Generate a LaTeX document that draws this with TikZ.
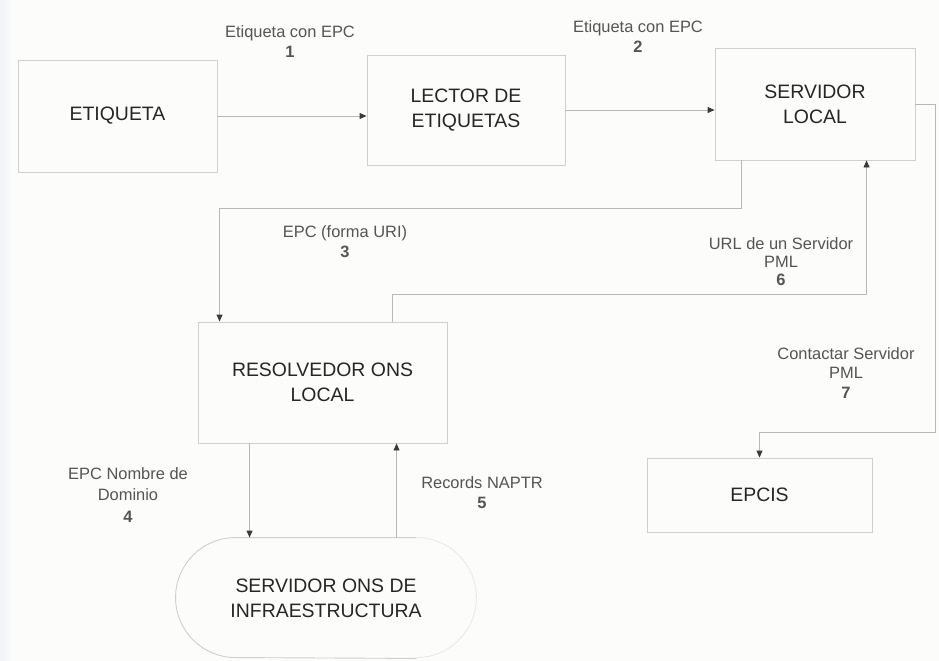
\documentclass[tikz,border=0pt]{standalone}
\usepackage{fontspec}
\setmainfont{Liberation Sans}
\usetikzlibrary{arrows.meta,calc}
\definecolor{boxline}{HTML}{CFCFCF}
\definecolor{faintline}{HTML}{EAEAEA}
\definecolor{wire}{HTML}{B8B8B8}
\definecolor{tip}{HTML}{3A3A3A}
\definecolor{boxtext}{HTML}{262626}
\definecolor{wiretext}{HTML}{555555}
\definecolor{paper}{HTML}{FCFCFA}
\definecolor{edge}{HTML}{F0F3F8}

\begin{document}
\begin{tikzpicture}[x=1bp,y=-1bp,
  block/.style={draw=boxline, line width=0.9bp, align=center, text=boxtext,
    font=\fontsize{19.5}{25}\selectfont, inner sep=0pt},
  flow/.style={draw=wire, line width=0.9bp,
    -{Triangle[length=7bp,width=6bp,color=tip]}},
  tag/.style={align=center, text=wiretext, font=\fontsize{16.5}{20}\selectfont, inner sep=0pt}]
% page
\fill[paper] (0,0) rectangle (939,661);
\shade[left color=edge, right color=paper] (0,0) rectangle (14,661);
\useasboundingbox (0,0) rectangle (939,661);

% blocks
\node[block, minimum width=199bp, minimum height=112bp] (et) at (117.5,116) {ETIQUETA};
\node[block, minimum width=198bp, minimum height=110bp] (le) at (466,110) {LECTOR DE\\ETIQUETAS};
\node[block, minimum width=200bp, minimum height=112bp] (sl) at (815,104) {SERVIDOR\\LOCAL};
\node[block, minimum width=249bp, minimum height=121bp] (ro) at (322.5,382.5) {RESOLVEDOR ONS\\LOCAL};
\node[block, minimum width=225bp, minimum height=74bp] (ep) at (759.5,495) {EPCIS};
\node[block, draw=none, minimum width=300bp, minimum height=120bp] (ons) at (326,598)
  {SERVIDOR ONS DE\\INFRAESTRUCTURA};

% outline of the infrastructure server: rounded ends, the right one barely inked
\draw[boxline, line width=0.9bp]
  ($(ons.north east)+(-60,0)$) -- ($(ons.north west)+(60,0)$)
  arc[start angle=270, end angle=90, radius=60]
  -- ($(ons.south east)+(-60,0)$);
\draw[faintline, line width=0.9bp]
  ($(ons.north east)+(-60,0)$) arc[start angle=270, end angle=450, radius=60];

% connectors
\draw[flow] (et.east) -- (et.east -| le.west);
\draw[flow] (le.east) -- (le.east -| sl.west);

\coordinate (s3) at ($(sl.south west)+(27,0)$);
\coordinate (e3) at ($(ro.north west)+(22,0)$);
\draw[flow] (s3) -- ++(0,48) -| (e3);

\coordinate (s6) at ($(ro.north west)+(195,0)$);
\coordinate (e6) at ($(sl.south west)+(152,0)$);
\draw[flow] (s6) -- ++(0,-27) -| (e6);

\coordinate (b7) at ($(ep.north)+(0,-25)$);
\draw[flow] (sl.east) -- ++(20,0) |- (b7) -- (ep.north);

\coordinate (s4) at ($(ro.south west)+(52,0)$);
\draw[flow] (s4) -- (s4 |- ons.north);

\coordinate (e5) at ($(ro.south west)+(199,0)$);
\draw[flow] (e5 |- ons.north) -- (e5);

% connector labels
\node[tag] (t1) at (290,42) {Etiqueta con EPC\\\textbf{1}};
\node[tag] (t2) at (638,37) {Etiqueta con EPC\\\textbf{2}};
\node[tag] (t3) at (345,242) {EPC (forma URI)\\\textbf{3}};
\node[tag, font=\fontsize{16.5}{18}\selectfont] (t6) at (781,262) {URL de un Servidor\\PML\\\textbf{6}};
\node[tag] (t7) at (846,373) {Contactar Servidor\\PML\\\textbf{7}};
\node[tag, font=\fontsize{16.5}{22}\selectfont] (t4) at (128,495) {EPC Nombre de\\Dominio\\\textbf{4}};
\node[tag] (t5) at (482,493) {Records NAPTR\\\textbf{5}};
\end{tikzpicture}
\end{document}
